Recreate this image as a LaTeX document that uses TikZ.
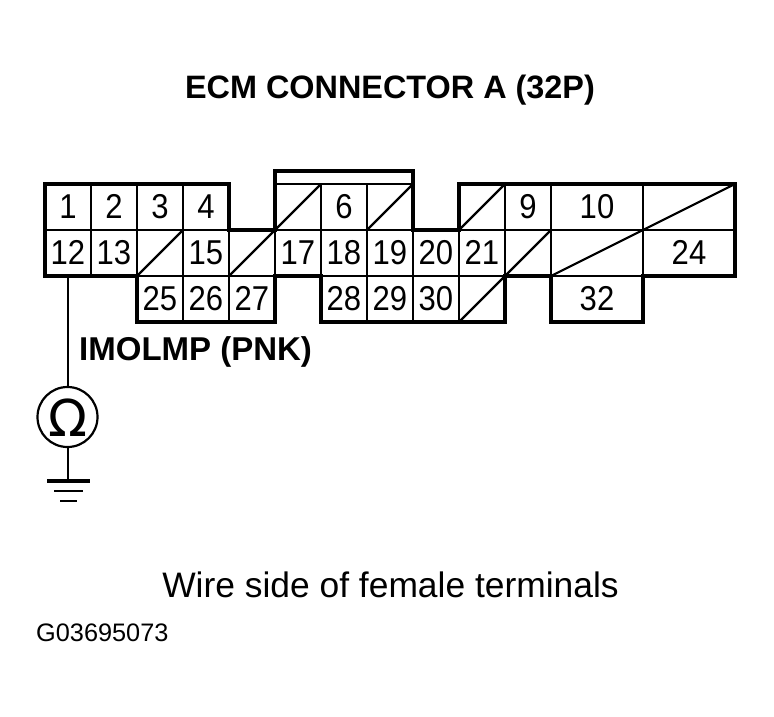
\documentclass[tikz,border=0pt]{standalone}
\usepackage{fontspec}
\setmainfont{Liberation Sans}
\newfontfamily\cellfont[FakeStretch=0.9]{Liberation Sans}
\newfontfamily\symfont{DejaVu Sans}
\newcommand{\fsz}[1]{\fontsize{#1}{#1}\selectfont}
\tikzset{
  x=1pt,y=-1pt,
  cell/.style={draw=black,line width=1.8pt,anchor=north west,inner sep=0pt,outer sep=0pt,font=\cellfont\fsz{34.5},text height=24pt,text depth=2pt},
  cellA/.style={cell,minimum width=46pt,minimum height=46pt},
  cellB/.style={cell,minimum width=92pt,minimum height=46pt},
  slash/.style={line width=2.2pt,line cap=round},
  outline/.style={line width=3.6pt,line join=miter},
  wire/.style={line width=2pt},
  title/.style={font=\fsz{32.4}\bfseries,inner sep=0pt},
  plain/.style={inner sep=0pt}
}
\begin{document}
\begin{tikzpicture}
\useasboundingbox (0,0) rectangle (774,716);
\fill[white] (0,0) rectangle (774,716);
% row 1
\foreach \n/\t/\px in {c1/1/45,c2/2/91,c3/3/137,c4/4/183,s5//275,c6/6/321,s7//367,s8//459,c9/9/505}
  \node[cellA] (\n) at (\px,184) {\t};
\node[cellB] (c10) at (551,184) {10};
\node[cellB] (s11) at (643,184) {};
% row 2
\foreach \n/\t/\px in {c12/12/45,c13/13/91,s14//137,c15/15/183,s16//229,c17/17/275,c18/18/321,c19/19/367,c20/20/413,c21/21/459,s22//505}
  \node[cellA] (\n) at (\px,230) {\t};
\node[cellB] (s23) at (551,230) {};
\node[cellB] (c24) at (643,230) {24};
% row 3
\foreach \n/\t/\px in {c25/25/137,c26/26/183,c27/27/229,c28/28/321,c29/29/367,c30/30/413,s31//459}
  \node[cellA] (\n) at (\px,276) {\t};
\node[cellB] (c32) at (551,276) {32};
% blanked terminals
\foreach \n in {s5,s7,s8,s11,s14,s16,s22,s23,s31}
  \draw[slash] (\n.south west) -- (\n.north east);
% housing outline
\draw[outline] (c1.north west) -- (c4.north east) -- (s16.north west) -- (c17.north west)
  -- (275,171) -- (413,171) -- (c20.north west) -- (c21.north west) -- (s8.north west)
  -- (s11.north east) -- (c24.south east) -- (c32.north east) -- (c32.south east)
  -- (c32.south west) -- (s23.south west) -- (s22.south west) -- (s31.south east)
  -- (c28.south west) -- (c28.north west) -- (c27.north east) -- (c27.south east)
  -- (c25.south west) -- (c25.north west) -- (c12.south west) -- cycle;
% meter
\node[draw=black,circle,line width=2.2pt,minimum size=60pt,inner sep=0pt] (ohm) at (67.5,417) {};
\node[plain,font=\symfont\fsz{51}] at (67.5,418) {Ω};
\coordinate (tap) at (67.5,276);
\coordinate (gnd) at (67.5,481);
\draw[wire] (tap) -- (ohm.north);
\draw[wire] (ohm.south) -- (gnd);
\coordinate (g1a) at (47,481); \coordinate (g1b) at (90,481);
\coordinate (g2a) at (54,491); \coordinate (g2b) at (83,491);
\coordinate (g3a) at (60,501); \coordinate (g3b) at (77,501);
\draw[line width=3.4pt] (g1a) -- (g1b);
\draw[line width=2.6pt] (g2a) -- (g2b);
\draw[line width=2.6pt] (g3a) -- (g3b);
% labels
\node[title] (ttl) at (390,90) {ECM CONNECTOR A (32P)};
\node[title,anchor=west,font=\fsz{33}\bfseries] (imo) at (79,352) {IMOLMP (PNK)};
\node[plain,font=\fsz{35.4}] (wire) at (390.5,584.5) {Wire side of female terminals};
\node[plain,font=\fsz{25.3},anchor=west] (code) at (36,633) {G03695073};
\end{tikzpicture}
\end{document}
